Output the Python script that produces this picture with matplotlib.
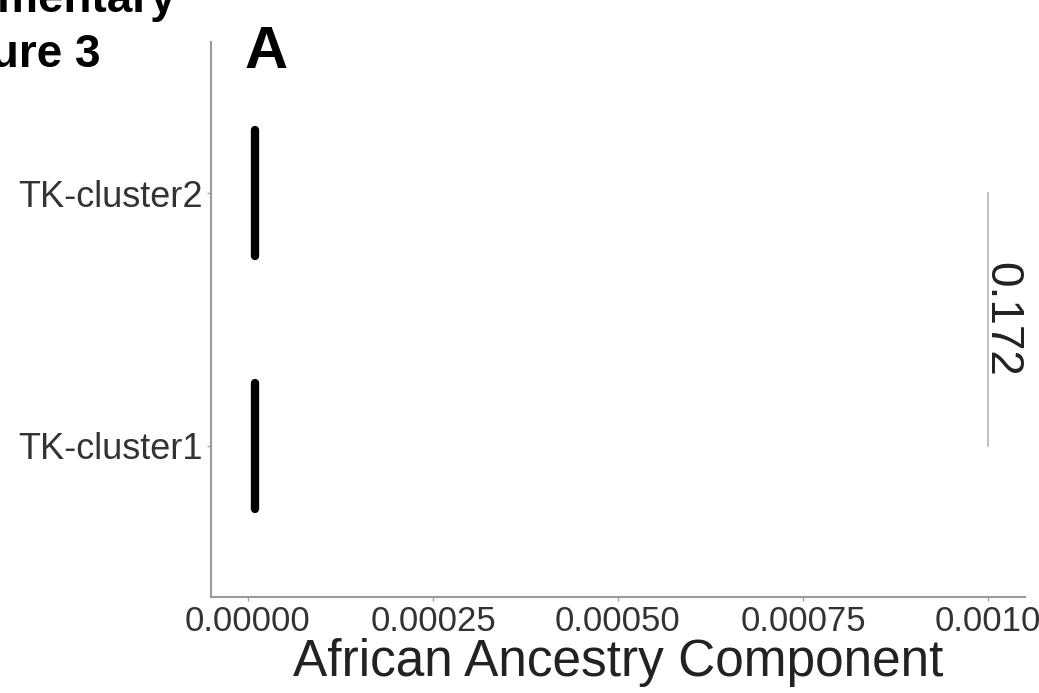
import matplotlib
matplotlib.use("Agg")
import matplotlib.pyplot as plt

plt.rcParams['font.family'] = ['Liberation Sans', 'DejaVu Sans']

# data
clusters = ['TK-cluster1', 'TK-cluster2']
african_component = [0.00001, 0.00001]
x_ticks = [0.0, 0.00025, 0.0005, 0.00075, 0.001]
x_tick_labels = ['0.00000', '0.00025', '0.00050', '0.00075', '0.0010']
p_value = '0.172'

W, H = 1039, 693
fig = plt.figure(figsize=(W / 100, H / 100), dpi=100)
ax = fig.add_axes([211 / W, (H - 597) / H, (1025 - 211) / W, (597 - 42) / H])

# degenerate boxes -> thick vertical bars
for i, (name, val) in enumerate(zip(clusters, african_component)):
    ax.plot([val, val], [i + 1 - 0.25, i + 1 + 0.25], color='black', lw=6,
            solid_capstyle='round')

# significance bracket
ax.plot([x_ticks[-1], x_ticks[-1]], [1, 2], color='#b5b5b5', lw=1.2)
ax.text(x_ticks[-1] - 0.000012, 1.5, p_value, rotation=-90, ha='left', va='center',
        fontsize=33, color='#222222', clip_on=False)

ax.set_xlim(-0.00005, 0.00105)
ax.set_ylim(0.4, 2.6)
ax.set_xticks(x_ticks)
ax.set_xticklabels(x_tick_labels)
ax.set_yticks([1, 2])
ax.set_yticklabels(clusters)
ax.tick_params(axis='x', labelsize=25)
ax.tick_params(axis='y', labelsize=26)
ax.tick_params(axis='both', labelcolor='#333333', color='#a0a0a0',
               length=3, width=1, pad=3)
ax.set_xlabel('African Ancestry Component', fontsize=37, color='#222222', labelpad=0)

for side in ['top', 'right']:
    ax.spines[side].set_visible(False)
for side in ['left', 'bottom']:
    ax.spines[side].set_color('#9a9a9a')
    ax.spines[side].set_linewidth(1.5)

# panel label and cropped figure title
fig.text(245 / W, 1 - 68 / H, 'A', fontsize=43, fontweight='bold', ha='left', va='baseline')
fig.text(176 / W, 1 - 12 / H, 'Supplementary', fontsize=33, fontweight='bold',
         ha='right', va='baseline')
fig.text(101 / W, 1 - 67 / H, 'Figure 3', fontsize=33, fontweight='bold',
         ha='right', va='baseline')

fig.savefig('out.png', dpi=100, facecolor='white')
